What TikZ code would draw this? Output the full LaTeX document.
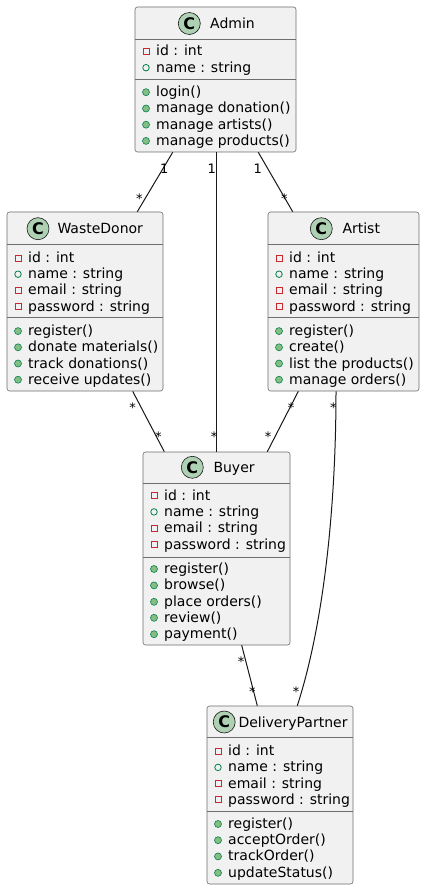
\documentclass[tikz,border=0pt]{standalone}
\usepackage{fontspec}
\setmainfont{DejaVu Sans}
\usetikzlibrary{fit}

\definecolor{boxfill}{HTML}{F1F1F1}
\definecolor{edge}{HTML}{181818}
\definecolor{frameline}{HTML}{6E6E6E}
\definecolor{privred}{HTML}{C82930}
\definecolor{pubgreen}{HTML}{038048}
\definecolor{pubfill}{HTML}{84BE84}
\definecolor{badge}{HTML}{ADD1B2}

\tikzset{
  classbox/.style={draw=frameline, fill=boxfill, line width=0.6pt, rounded corners=2.5pt, inner sep=0pt},
  divider/.style={draw=frameline, line width=0.6pt},
  badgecirc/.style={circle, draw=edge, fill=badge, line width=0.6pt, minimum size=22pt, inner sep=0pt,
    font=\fontsize{16}{16}\selectfont\bfseries},
  classname/.style={anchor=base west, inner sep=0pt, font=\fontsize{14}{16}\selectfont},
  member/.style={anchor=base west, inner sep=0pt, font=\fontsize{14}{16}\selectfont},
  privmark/.style={rectangle, draw=privred, line width=0.8pt, minimum size=6pt, inner sep=0pt},
  fieldmark/.style={circle, draw=pubgreen, line width=0.8pt, minimum size=6.5pt, inner sep=0pt},
  methmark/.style={circle, draw=pubgreen, fill=pubfill, line width=0.6pt, minimum size=7pt, inner sep=0pt},
  assoc/.style={draw=edge, line width=1pt},
  mult/.style={anchor=base, inner sep=0pt, font=\fontsize{13}{13}\selectfont},
}

% class frame: name, left, top, right, header divider, field divider, bottom
\newcommand\umlframe[7]{%
  \node[classbox, fit={(#2,#3) (#4,#7)}] (#1) {};
  \draw[divider] (#2,#5) -- (#4,#5);
  \draw[divider] (#2,#6) -- (#4,#6);
}
% class header: name, badge x, header y, title x, title
\newcommand\umlhead[5]{%
  \node[badgecirc] (#1-badge) at (#2,#3) {C};
  \node[classname] (#1-title) at (#4,{#3+5}) {#5};
}
% member rows: name, class left edge, row centre y, text
\newcommand\privrow[4]{%
  \node[privmark] (#1-mark) at ({#2+11},{#3+0.5}) {};
  \node[member] (#1) at ({#2+21},{#3+5}) {#4};
}
\newcommand\fieldrow[4]{%
  \node[fieldmark] (#1-mark) at ({#2+11},{#3+0.5}) {};
  \node[member] (#1) at ({#2+21},{#3+5}) {#4};
}
\newcommand\methrow[4]{%
  \node[methmark] (#1-mark) at ({#2+11},{#3+0.5}) {};
  \node[member] (#1) at ({#2+21},{#3+5}) {#4};
}

\begin{document}
\begin{tikzpicture}[x=1pt, y=-1pt]
  \fill[white] (0,0) rectangle (425,890);
  \useasboundingbox (0,0) rectangle (425,890);

  % ---- classes ----
  \umlframe{admin}{135}{7}{296}{39}{79}{152}
  \umlhead{admin}{189.3}{23.5}{210}{Admin}
  \privrow{admin-id}{135}{51}{id : int}
  \fieldrow{admin-name}{135}{67.2}{name : string}
  \methrow{admin-login}{135}{91.7}{login()}
  \methrow{admin-donation}{135}{108}{manage donation()}
  \methrow{admin-artists}{135}{124.2}{manage artists()}
  \methrow{admin-products}{135}{140.4}{manage products()}

  \umlframe{wd}{7}{212}{163}{244}{317}{391}
  \umlhead{wd}{38}{228.7}{57.3}{WasteDonor}
  \privrow{wd-id}{7}{257.5}{id : int}
  \fieldrow{wd-name}{7}{273.7}{name : string}
  \privrow{wd-email}{7}{289.9}{email : string}
  \privrow{wd-password}{7}{306.1}{password : string}
  \methrow{wd-register}{7}{330.6}{register()}
  \methrow{wd-donate}{7}{346.8}{donate materials()}
  \methrow{wd-track}{7}{363}{track donations()}
  \methrow{wd-receive}{7}{379.2}{receive updates()}

  \umlframe{artist}{268}{212}{419}{244}{317}{391}
  \umlhead{artist}{321.3}{228.7}{342.3}{Artist}
  \privrow{artist-id}{268}{257.5}{id : int}
  \fieldrow{artist-name}{268}{273.7}{name : string}
  \privrow{artist-email}{268}{289.9}{email : string}
  \privrow{artist-password}{268}{306.1}{password : string}
  \methrow{artist-register}{268}{330.6}{register()}
  \methrow{artist-create}{268}{346.8}{create()}
  \methrow{artist-list}{268}{363}{list the products()}
  \methrow{artist-orders}{268}{379.2}{manage orders()}

  \umlframe{buyer}{143}{452}{290}{483}{557}{645}
  \umlhead{buyer}{192.3}{467.3}{213.3}{Buyer}
  \privrow{buyer-id}{143}{495}{id : int}
  \fieldrow{buyer-name}{143}{511.4}{name : string}
  \privrow{buyer-email}{143}{527.8}{email : string}
  \privrow{buyer-password}{143}{544.2}{password : string}
  \methrow{buyer-register}{143}{568.5}{register()}
  \methrow{buyer-browse}{143}{584.9}{browse()}
  \methrow{buyer-place}{143}{601.3}{place orders()}
  \methrow{buyer-review}{143}{617.3}{review()}
  \methrow{buyer-payment}{143}{633.7}{payment()}

  \umlframe{dp}{207}{706}{353}{737}{811}{884}
  \umlhead{dp}{224.2}{722}{238.3}{DeliveryPartner}
  \privrow{dp-id}{207}{750.7}{id : int}
  \fieldrow{dp-name}{207}{766.9}{name : string}
  \privrow{dp-email}{207}{783.1}{email : string}
  \privrow{dp-password}{207}{799.3}{password : string}
  \methrow{dp-register}{207}{823.5}{register()}
  \methrow{dp-accept}{207}{839.7}{acceptOrder()}
  \methrow{dp-track}{207}{855.9}{trackOrder()}
  \methrow{dp-update}{207}{872.3}{updateStatus()}

  % ---- associations ----
  \draw[assoc] (admin.south -| 172.7,0) -- (wd.north -| 137.3,0);
  \draw[assoc] (admin.south -| 216.7,0) -- (buyer.north -| 216.7,0);
  \draw[assoc] (admin.south -| 258.3,0) -- (artist.north -| 292.7,0);
  \draw[assoc] (wd.south -| 132.7,0) -- (buyer.north -| 164.3,0);
  \draw[assoc] (artist.south -| 298.3,0) -- (buyer.north -| 267.3,0);
  \draw[assoc] (buyer.south -| 241.7,0) -- (dp.north -| 257.3,0);
  \draw[assoc] (artist.south -| 336,0) .. controls (336,500) and (325,620) .. (dp.north -| 297.3,0);

  % ---- multiplicities ----
  \node[mult] (m-aw-a) at (164.3,173.7) {1};
  \node[mult] (m-ab-a) at (211.7,173.7) {1};
  \node[mult] (m-aa-a) at (257.7,173.7) {1};
  \node[mult] (m-aw-b) at (139.3,203.2) {*};
  \node[mult] (m-aa-b) at (284.3,203.2) {*};
  \node[mult] (m-wb-a) at (132.7,412.5) {*};
  \node[mult] (m-wb-b) at (158.3,441.5) {*};
  \node[mult] (m-ab-b) at (214,441.5) {*};
  \node[mult] (m-rb-a) at (291,412.5) {*};
  \node[mult] (m-rb-b) at (268,441.5) {*};
  \node[mult] (m-rd-a) at (333.3,412.5) {*};
  \node[mult] (m-bd-a) at (241,666.5) {*};
  \node[mult] (m-bd-b) at (252.3,696.5) {*};
  \node[mult] (m-rd-b) at (296,696.5) {*};
\end{tikzpicture}
\end{document}
